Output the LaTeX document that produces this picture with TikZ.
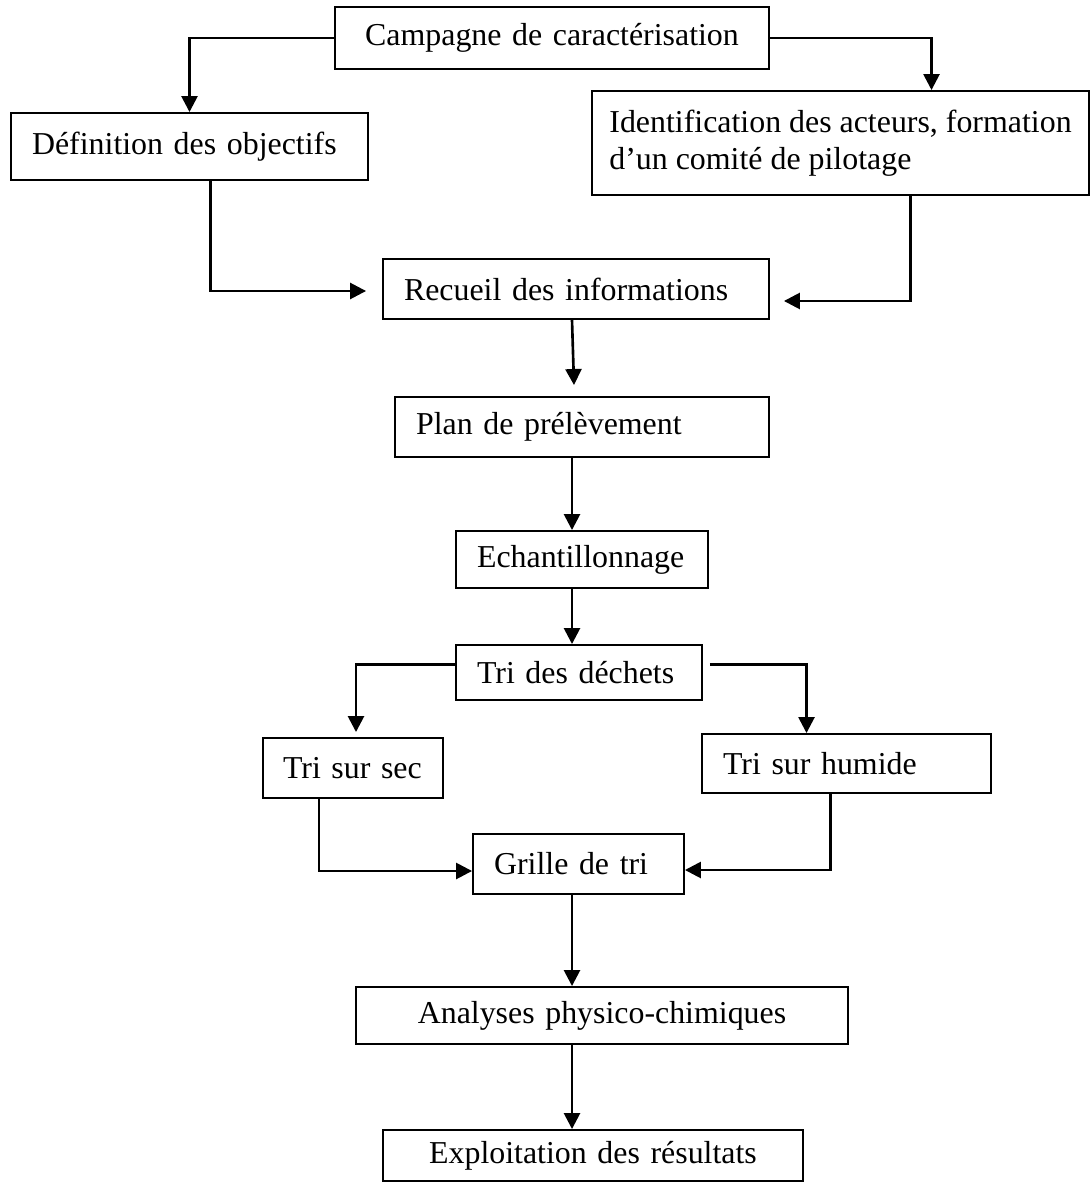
\documentclass[tikz,border=0pt]{standalone}
\usepackage{fontspec}
\setmainfont{Liberation Serif}
\usetikzlibrary{arrows.meta, calc}

\begin{document}
\begin{tikzpicture}[x=0.02cm,y=-0.02cm,
etape/.style={draw,line width=1.1pt,inner xsep=0.42cm,inner ysep=0pt,align=left,font=\fontsize{18.15}{21}\selectfont},
fleche/.style={-{Triangle[length=0.32cm,width=0.32cm]},line width=1.5pt}]
\useasboundingbox (0,0) rectangle (1091,1182);
\coordinate (spine) at (572,0);
\node[etape,align=center,text width=7.84cm,minimum height=1.24cm] (camp) at (552,38) {Campagne de caractérisation};
\node[etape,text width=6.3cm,minimum height=1.34cm] (def) at (189.5,146.5) {Définition des objectifs};
\node[etape,inner xsep=0.3cm,minimum width=9.94cm,minimum height=2.08cm] (ident) at (840.5,143) {Identification des acteurs, formation\\d’un comité de pilotage};
\node[etape,text width=6.88cm,minimum height=1.2cm] (rec) at (576,289) {Recueil des informations};
\node[etape,text width=6.64cm,minimum height=1.2cm] (plan) at (582,427) {Plan de prélèvement};
\node[etape,text width=4.2cm,minimum height=1.14cm] (ech) at (582,559.5) {Echantillonnage};
\node[etape,text width=4.08cm,minimum height=1.1cm] (tri) at (579,672.5) {Tri des déchets};
\node[etape,inner xsep=0.4cm,text width=2.8cm,minimum height=1.2cm] (sec) at (353,768) {\mbox{Tri sur sec}};
\node[etape,text width=4.94cm,minimum height=1.18cm] (hum) at (846.5,763.5) {Tri sur humide};
\node[etape,text width=3.38cm,minimum height=1.2cm] (grille) at (578.5,864) {Grille de tri};
\node[etape,align=center,text width=9.0cm,minimum height=1.14cm] (ana) at (602,1015.5) {Analyses physico-chimiques};
\node[etape,align=center,text width=7.56cm,minimum height=1.02cm] (expl) at (593,1155.5) {Exploitation des résultats};
\draw[fleche] (camp.west) -| (def.north);
\draw[fleche] (camp.east) -| ($(ident.north)+(91,0)$);
\draw[fleche] ($(def.south)+(21,0)$) |- ($(rec.west)+(-16,2)$);
\draw[fleche] ($(ident.south)+(70,0)$) |- ($(rec.east)+(14,12)$);
\draw[fleche] (rec.south -| spine) -- ($(plan.north -| spine)+(2,-11)$);
\draw[fleche] (plan.south -| spine) -- (ech.north -| spine);
\draw[fleche] (ech.south -| spine) -- (tri.north -| spine);
\draw[fleche] ($(tri.west)+(0,-8)$) -| ($(sec.north)+(3,-5)$);
\draw[fleche] ($(tri.east)+(7,-8)$) -| ($(hum.north)+(-40,0)$);
\draw[fleche] ($(sec.south)+(-34,0)$) |- ($(grille.west)+(0,7)$);
\draw[fleche] ($(hum.south)+(-16,0)$) |- ($(grille.east)+(0,6)$);
\draw[fleche] (grille.south -| spine) -- (ana.north -| spine);
\draw[fleche] (ana.south -| spine) -- (expl.north -| spine);
\end{tikzpicture}
\end{document}
